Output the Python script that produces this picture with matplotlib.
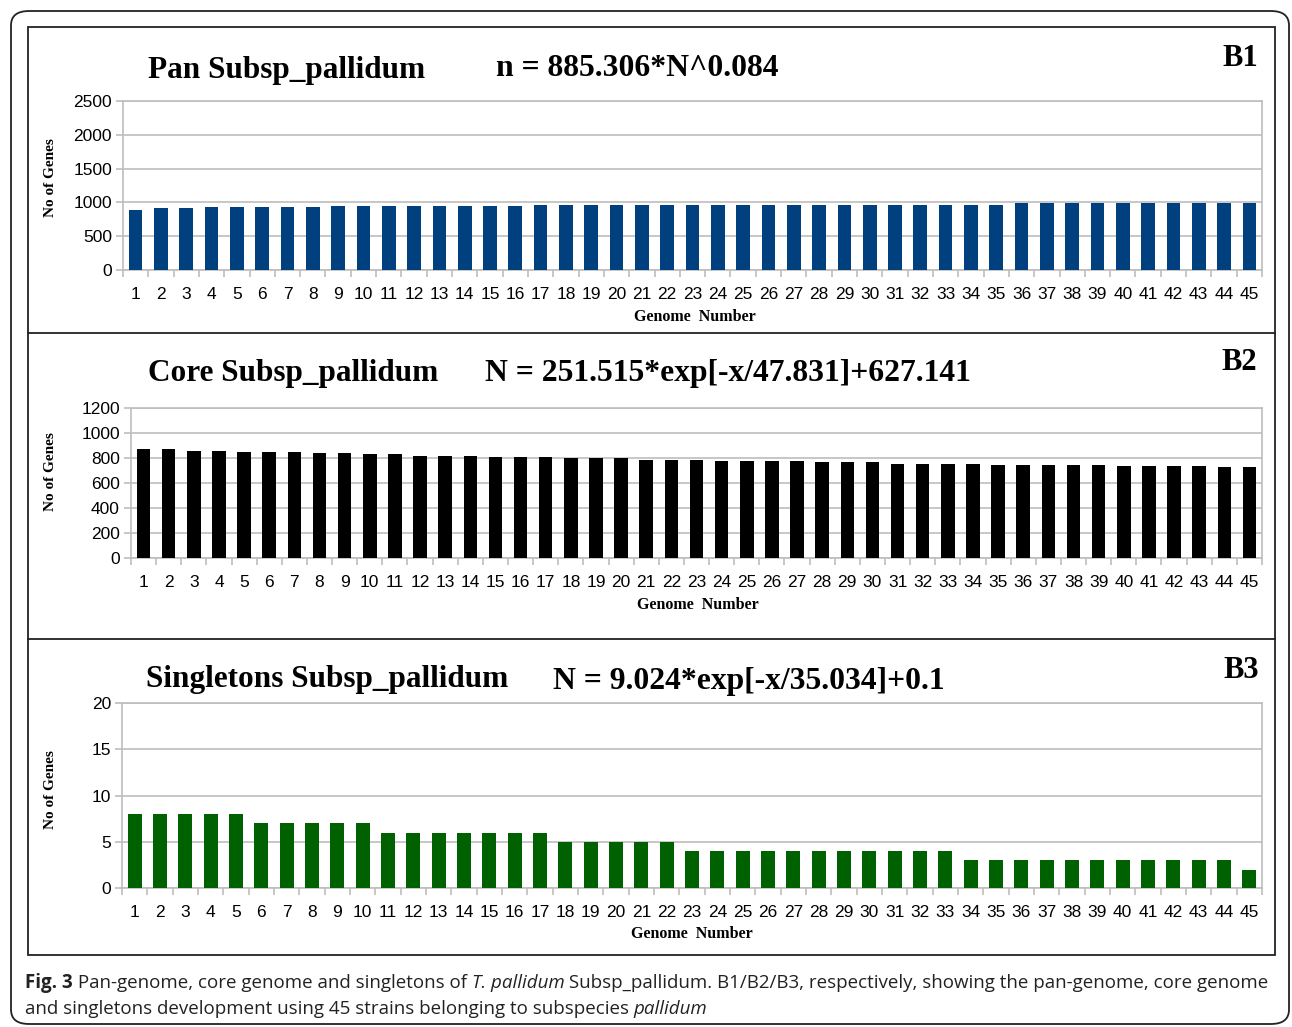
import matplotlib
matplotlib.use("Agg")
import matplotlib.pyplot as plt
from matplotlib.patches import FancyBboxPatch, Rectangle
from matplotlib.lines import Line2D
import numpy as np

W, H = 1292, 1027

genomes = list(range(1, 46))
pan_values = [890, 915, 915, 930, 930, 930, 930, 930,
              950, 950, 950, 950, 950, 950, 950, 950,
              965, 965, 965, 965, 965, 965, 965, 965, 965, 965, 965, 965, 965, 965,
              965, 965, 965, 965, 965,
              985, 985, 985, 985, 985, 985, 985, 985, 985, 985]
core_values = [870, 870, 860, 860, 850, 850, 850, 840, 840, 830, 830, 820, 820, 820,
               810, 810, 810, 800, 800, 800, 785, 785, 785, 775, 775, 775, 775,
               765, 765, 765, 755, 755, 755, 755, 745, 745, 745, 745, 745,
               735, 735, 735, 735, 725, 725]
single_values = [8, 8, 8, 8, 8, 7, 7, 7, 7, 7, 6, 6, 6, 6, 6, 6, 6,
                 5, 5, 5, 5, 5, 4, 4, 4, 4, 4, 4, 4, 4, 4, 4, 4,
                 3, 3, 3, 3, 3, 3, 3, 3, 3, 3, 3, 2]

titles = ["Pan Subsp_pallidum", "Core Subsp_pallidum", "Singletons Subsp_pallidum"]
formulas = ["n = 885.306*N^0.084", "N = 251.515*exp[-x/47.831]+627.141",
            "N = 9.024*exp[-x/35.034]+0.1"]
panel_tags = ["B1", "B2", "B3"]
ylabel = "No of Genes"
xlabel = "Genome  Number"

fig = plt.figure(figsize=(W / 100, H / 100), dpi=100)
fig.patch.set_facecolor("white")

def rect(x0, y0, x1, y1):
    return [x0 / W, 1 - y1 / H, (x1 - x0) / W, (y1 - y0) / H]

def fx(x):
    return x / W

def fy(y):
    return 1 - y / H

# Outer rounded frame
frame = FancyBboxPatch((fx(11), fy(1024)), fx(1289) - fx(11), fy(11) - fy(1024),
                       boxstyle="round,pad=0,rounding_size=0.014",
                       transform=fig.transFigure, fill=False, lw=1.3, ec="#222222")
fig.patches.append(frame)
# inner box
fig.patches.append(Rectangle((fx(28), fy(955)), fx(1275) - fx(28), fy(27) - fy(955),
                             transform=fig.transFigure, fill=False, lw=1.3, ec="#222222"))
for yy in (333, 639):
    fig.lines.append(Line2D([fx(28), fx(1275)], [fy(yy), fy(yy)],
                            transform=fig.transFigure, lw=1.3, color="#222222"))

serif = ["Liberation Serif", "DejaVu Serif"]
sans = ["Liberation Sans", "DejaVu Sans"]

panels = [
    dict(box=(123, 101, 1262, 270), vals=pan_values, color="#00407F", ymax=2500, step=500,
         title_xy=(148, 70), form_xy=(496, 69), tag_xy=(1240, 58), ylab_xy=(51, 178),
         xlab_xy=(695, 317)),
    dict(box=(131, 408, 1262, 558), vals=core_values, color="#000000", ymax=1200, step=200,
         title_xy=(148, 374), form_xy=(485, 373), tag_xy=(1239, 363), ylab_xy=(50, 472),
         xlab_xy=(698, 605)),
    dict(box=(122, 703, 1262, 888), vals=single_values, color="#006100", ymax=20, step=5,
         title_xy=(146, 679), form_xy=(553, 681), tag_xy=(1241, 670), ylab_xy=(50, 790),
         xlab_xy=(692, 934)),
]

grid_c = "#BEBEBE"
for i, p in enumerate(panels):
    ax = fig.add_axes(rect(*p["box"]))
    x = np.arange(len(genomes))
    ax.bar(x, p["vals"], width=0.54, color=p["color"], zorder=3)
    ax.set_xlim(-0.5, len(genomes) - 0.5)
    ax.set_ylim(0, p["ymax"])
    ax.set_yticks(np.arange(0, p["ymax"] + 1, p["step"]))
    ax.yaxis.grid(True, color=grid_c, lw=1.2, zorder=0)
    ax.set_xticks(x)
    ax.set_xticklabels([str(g) for g in genomes], family=sans, fontsize=12.5)
    ax.set_xticks(np.arange(-0.5, len(genomes), 1.0), minor=True)
    ax.tick_params(axis="x", which="major", length=0, pad=12)
    ax.tick_params(axis="x", which="minor", length=5, color=grid_c, width=1.2)
    ax.tick_params(axis="y", length=5, color=grid_c, width=1.2, pad=3)
    for lab in ax.get_yticklabels():
        lab.set_family(sans)
        lab.set_fontsize(12.5)
    for s in ax.spines.values():
        s.set_color(grid_c)
        s.set_linewidth(1.2)
    # texts
    fig.text(fx(p["title_xy"][0]), fy(p["title_xy"][1]), titles[i], family=serif,
             weight="bold", fontsize=22.5, ha="left", va="center")
    fig.text(fx(p["form_xy"][0]), fy(p["form_xy"][1]), formulas[i], family=serif,
             weight="bold", fontsize=22.8, ha="left", va="center")
    fig.text(fx(p["tag_xy"][0]), fy(p["tag_xy"][1]), panel_tags[i], family=serif,
             weight="bold", fontsize=22, ha="center", va="center")
    fig.text(fx(p["ylab_xy"][0]), fy(p["ylab_xy"][1]), ylabel, family=serif,
             weight="bold", fontsize=11, ha="center", va="center", rotation=90)
    fig.text(fx(p["xlab_xy"][0]), fy(p["xlab_xy"][1]), xlabel, family=serif,
             weight="bold", fontsize=11.5, ha="center", va="center")

# Caption with mixed styles
cap_font = ["Open Sans", "DejaVu Sans"]
line1 = [("Fig. 3", "bold", "normal"),
         (" Pan-genome, core genome and singletons of ", "normal", "normal"),
         ("T. pallidum", "normal", "italic"),
         (" Subsp_pallidum. B1/B2/B3, respectively, showing the pan-genome, core genome", "normal", "normal")]
line2 = [("and singletons development using 45 strains belonging to subspecies ", "normal", "normal"),
         ("pallidum", "normal", "italic")]

renderer = fig.canvas.get_renderer()

def draw_line(pieces, x0, yc, size):
    xcur = x0
    for txt, w, st in pieces:
        t = fig.text(fx(xcur), fy(yc), txt, family=cap_font, weight=w, style=st,
                     fontsize=size, ha="left", va="center", color="#222222")
        bb = t.get_window_extent(renderer=renderer)
        xcur += bb.width
    return xcur - x0

trial = 13
tmp = []
xw = 0
for txt, w, st in line1:
    t = fig.text(0, 0, txt, family=cap_font, weight=w, style=st, fontsize=trial)
    xw += t.get_window_extent(renderer=renderer).width
    tmp.append(t)
for t in tmp:
    t.remove()
size = trial * (1240 / xw)
draw_line(line1, 25, 983, size)
draw_line(line2, 25, 1009, size)

fig.savefig("out.png", dpi=100, facecolor="white")
